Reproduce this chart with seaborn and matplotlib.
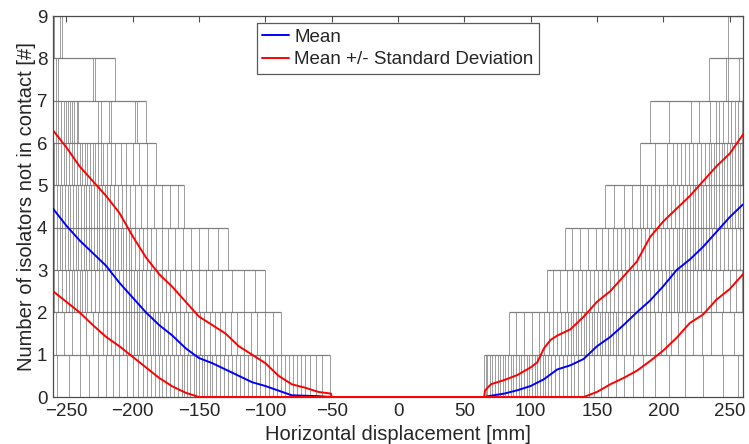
import matplotlib
matplotlib.use('Agg')
import matplotlib.pyplot as plt
import seaborn as sns

# averaged curves (x in mm, y in number of isolators)
mean_x = [-260, -250, -240, -230, -220, -210, -200, -190, -180, -170, -160, -150,
          -140, -130, -120, -110, -100, -90, -80, -70, -60, -50,
          65, 70, 80, 90, 100, 110, 120, 130, 140, 150, 160, 170, 180, 190,
          200, 210, 220, 230, 240, 250, 260]
mean_y = [4.45, 4.05, 3.7, 3.4, 3.1, 2.7, 2.35, 2.0, 1.7, 1.45, 1.15, 0.92,
          0.8, 0.65, 0.5, 0.35, 0.26, 0.15, 0.04, 0.03, 0.02, 0.0,
          0.0, 0.03, 0.08, 0.16, 0.26, 0.42, 0.65, 0.75, 0.9, 1.2, 1.42, 1.7, 2.0, 2.28,
          2.62, 3.0, 3.25, 3.55, 3.9, 4.25, 4.55]

upper_x = [-260, -250, -240, -230, -220, -210, -200, -190, -180, -170, -160, -150,
           -140, -130, -120, -110, -100, -90, -80, -70, -60, -50.5, -50,
           65, 65.5, 70, 80, 90, 100, 105, 110, 115, 120, 130, 140, 150, 160, 170,
           180, 190, 200, 210, 220, 230, 240, 250, 260]
upper_y = [6.3, 5.9, 5.45, 5.1, 4.75, 4.35, 3.8, 3.3, 2.9, 2.6, 2.25, 1.9,
           1.7, 1.5, 1.2, 1.0, 0.8, 0.5, 0.3, 0.22, 0.12, 0.08, 0.0,
           0.0, 0.15, 0.3, 0.4, 0.52, 0.7, 0.82, 1.15, 1.35, 1.45, 1.6, 1.9, 2.25, 2.5, 2.85,
           3.2, 3.78, 4.15, 4.45, 4.75, 5.1, 5.45, 5.75, 6.2]

lower_x = [-260, -250, -240, -230, -220, -210, -200, -190, -180, -170, -160, -150,
           140, 150, 160, 170, 180, 190, 200, 210, 220, 230, 240, 250, 260]
lower_y = [2.5, 2.25, 2.0, 1.7, 1.42, 1.2, 0.95, 0.7, 0.45, 0.25, 0.1, 0.0,
           0.0, 0.12, 0.3, 0.45, 0.62, 0.85, 1.1, 1.4, 1.75, 1.95, 2.3, 2.55, 2.9]

# individual runs: displacement (mm) at which one more isolator lifts off,
# entry k holds the steps from k to k+1 isolators
left_steps = [
    [-257, -248, -240, -233, -226, -220, -215, -210, -204, -200, -196, -192, -189,
     -186, -183, -180, -178, -175, -172, -169, -166, -163, -161, -159, -157, -154,
     -152, -150, -148, -146, -144, -142, -140, -137, -134, -131, -128, -125, -122,
     -119, -116, -113, -110, -107, -104, -100, -97, -94, -91, -88, -85, -82, -79,
     -76, -73, -70, -66, -62, -57, -51],
    [-258, -252, -246, -240, -235, -230, -226, -222, -219, -216, -213, -210, -207,
     -205, -203, -201, -199, -197, -195, -193, -191, -189, -187, -185, -183, -181,
     -179, -176, -173, -170, -167, -164, -161, -158, -155, -152, -149, -146, -142,
     -138, -134, -130, -126, -121, -116, -111, -106, -100, -94, -88],
    [-259, -256, -253, -250, -248, -246, -244, -242, -240, -238, -236, -234, -231,
     -228, -225, -222, -219, -216, -213, -210, -207, -205, -203, -201, -199, -197,
     -195, -193, -190, -187, -184, -181, -178, -175, -172, -168, -164, -160, -155,
     -150, -145, -140, -133, -125, -116, -108, -100],
    [-259, -257, -255, -253, -251, -249, -247, -245, -243, -241, -239, -237, -235,
     -233, -231, -229, -227, -225, -223, -221, -219, -217, -215, -213, -211, -209,
     -207, -205, -203, -201, -198, -195, -192, -189, -186, -182, -178, -173, -168,
     -162, -156, -150, -143, -136, -128],
    [-259, -257, -255, -253, -251, -249, -247, -245, -243, -241, -239, -237, -235,
     -233, -231, -229, -227, -225, -223, -221, -219, -217, -214, -211, -208, -205,
     -202, -198, -194, -189, -184, -178, -172, -166, -161],
    [-259, -258, -256, -254, -252, -250, -248, -246, -244, -242, -240, -238, -236,
     -234, -232, -230, -228, -226, -224, -222, -219, -216, -213, -209, -205, -200,
     -195, -189, -182],
    [-258, -256, -254, -252, -250, -249, -247, -246, -244, -242, -241, -226, -224,
     -218, -216, -198, -197, -190],
    [-258, -256, -230, -228, -213],
    [-259, -255, -253],
]
right_steps = [
    [65, 66, 67, 69, 71, 73, 75, 77, 79, 81, 83, 85, 87, 89, 91, 93, 95, 97, 99, 101,
     103, 105, 107, 109, 111, 113, 115, 118, 121, 124, 127, 130, 133, 136, 140, 144,
     148, 153, 158, 164, 170, 177, 185, 194, 204, 216, 230, 245, 256],
    [84, 89, 95, 101, 106, 110, 114, 117, 120, 123, 126, 128, 130, 132, 134, 136, 138,
     140, 142, 144, 146, 148, 150, 152, 154, 156, 158, 160, 162, 164, 166, 169, 172,
     175, 178, 181, 184, 187, 190, 194, 198, 202, 206, 211, 216, 222, 229, 236, 244,
     253],
    [112, 117, 122, 127, 132, 136, 139, 142, 145, 148, 151, 154, 157, 160, 163, 166,
     169, 172, 175, 178, 181, 184, 187, 190, 193, 196, 199, 202, 204, 206, 208, 210,
     212, 214, 216, 218, 220, 222, 225, 228, 232, 236, 240, 245, 250, 255, 259],
    [126, 131, 137, 143, 149, 154, 158, 162, 165, 168, 171, 174, 177, 180, 183, 186,
     189, 192, 195, 198, 201, 204, 207, 210, 212, 214, 216, 218, 220, 222, 224, 226,
     228, 230, 232, 234, 237, 240, 243, 246, 249, 252, 255, 258],
    [156, 163, 170, 176, 182, 185, 188, 191, 194, 197, 200, 203, 206, 209, 212, 215,
     218, 220, 222, 224, 226, 228, 230, 232, 234, 236, 238, 240, 242, 244, 246, 248,
     250, 252, 254, 256, 258],
    [182, 194, 203, 207, 210, 213, 216, 219, 222, 225, 228, 231, 234, 236, 238, 240,
     242, 244, 246, 248, 250, 252, 254, 256, 258, 259],
    [190, 204, 221, 227, 235, 240, 242, 245, 249, 251, 254, 256, 259],
    [234, 247, 249, 257],
    [249],
]

x_ticks = [-250, -200, -150, -100, -50, 0, 50, 100, 150, 200, 250]
y_ticks = list(range(10))
x_lim = (-260, 260)
y_lim = (0, 9)

sns.set_style('white')
plt.rcParams['font.family'] = ['Liberation Sans', 'DejaVu Sans']

fig = plt.figure(figsize=(7.49, 4.44), dpi=100)
ax = fig.add_axes([53 / 749, 47 / 444, 690 / 749, 381 / 444])

# step curves of the single runs
for k, xs in enumerate(left_steps):
    ax.vlines(xs, k, k + 1, color='0.3', lw=0.7, alpha=0.55, zorder=1)
    ax.hlines(k + 1, x_lim[0], max(xs), color='0.5', lw=0.9, zorder=1)
for k, xs in enumerate(right_steps):
    ax.vlines(xs, k, k + 1, color='0.3', lw=0.7, alpha=0.55, zorder=1)
    ax.hlines(k + 1, min(xs), x_lim[1], color='0.5', lw=0.9, zorder=1)

sns.lineplot(x=mean_x, y=mean_y, color='#0000ff', lw=1.4, label='Mean',
             estimator=None, sort=False, ax=ax, zorder=3)
sns.lineplot(x=upper_x, y=upper_y, color='#ff0000', lw=1.4,
             label='Mean +/- Standard Deviation',
             estimator=None, sort=False, ax=ax, zorder=3)
sns.lineplot(x=lower_x, y=lower_y, color='#ff0000', lw=1.4,
             estimator=None, sort=False, ax=ax, zorder=3)

ax.set_xlim(*x_lim)
ax.set_ylim(*y_lim)
ax.set_xticks(x_ticks)
ax.set_yticks(y_ticks)
ax.tick_params(direction='in', length=4, width=0.8, color='0.3',
               top=True, right=True, labelsize=13.5, pad=4)
for s in ax.spines.values():
    s.set_color('0.3')
    s.set_linewidth(0.9)

ax.set_xlabel('Horizontal displacement [mm]', fontsize=14.5, labelpad=4)
ax.set_ylabel('Number of isolators not in contact [#]', fontsize=14.5, labelpad=1)

leg = ax.legend(loc='upper center', bbox_to_anchor=(0.5, 0.982), fontsize=13.5,
                frameon=True, fancybox=False, handlelength=1.4, borderpad=0.3,
                labelspacing=0.3, handletextpad=0.3, borderaxespad=0)
leg.get_frame().set_edgecolor('0.35')
leg.get_frame().set_linewidth(0.9)
leg.get_frame().set_alpha(1)

fig.savefig('out.png', dpi=100)
